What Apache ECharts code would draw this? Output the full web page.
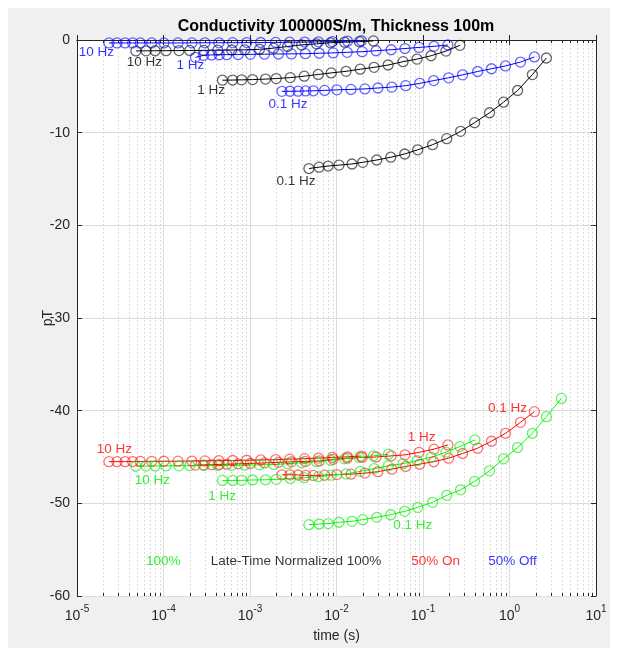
<!DOCTYPE html>
<html>
<head>
<meta charset="utf-8">
<title>Conductivity 100000S/m, Thickness 100m</title>
<script src="https://cdn.jsdelivr.net/npm/echarts@6/dist/echarts.min.js"></script>
<style>
  html, body { margin: 0; padding: 0; background: #ffffff; }
  #chart { width: 618px; height: 648px; }
</style>
</head>
<body>
<div id="chart"></div>
<script>
// ---- gate times (s) ----
// 100% waveform and late-time normalized curves share these gates
const tFull10 = [0.000048, 0.000063, 0.000080, 0.000107, 0.000151, 0.000201, 0.000292, 0.000424, 0.000615, 0.000869, 0.00129, 0.00188, 0.00272, 0.00395, 0.00588, 0.00853, 0.0124, 0.0184, 0.0267, 0.0398];
const tFull1  = [0.00048, 0.00063, 0.00080, 0.00107, 0.00151, 0.00201, 0.00292, 0.00424, 0.00615, 0.00869, 0.0129, 0.0188, 0.0272, 0.0395, 0.0588, 0.0853, 0.124, 0.184, 0.267, 0.398];
const tFull01 = [0.0048, 0.0063, 0.0080, 0.0107, 0.0151, 0.0201, 0.0292, 0.0424, 0.0615, 0.0869, 0.129, 0.188, 0.272, 0.395, 0.588, 0.853, 1.24, 1.84, 2.67, 3.98];
// 50% duty cycle (on / off) gates
const tHalf10 = [0.0000234, 0.000029, 0.000036, 0.000044, 0.000054, 0.000073, 0.000101, 0.000147, 0.000213, 0.000301, 0.000436, 0.000631, 0.000916, 0.00133, 0.00198, 0.00287, 0.00428, 0.00619, 0.0090, 0.0134, 0.0194];
const tHalf1  = [0.000234, 0.00029, 0.00036, 0.00044, 0.00054, 0.00073, 0.00101, 0.00147, 0.00213, 0.00301, 0.00436, 0.00631, 0.00916, 0.0133, 0.0198, 0.0287, 0.0428, 0.0619, 0.090, 0.134, 0.194];
const tHalf01 = [0.00234, 0.0029, 0.0036, 0.0044, 0.0054, 0.0073, 0.0101, 0.0147, 0.0213, 0.0301, 0.0436, 0.0631, 0.0916, 0.133, 0.198, 0.287, 0.428, 0.619, 0.90, 1.34, 1.94];

// ---- field values (pT) ----
const norm10 = [-1.18, -1.17, -1.16, -1.15, -1.14, -1.13, -1.12, -1.10, -1.08, -1.06, -1.00, -0.88, -0.70, -0.53, -0.41, -0.30, -0.24, -0.18, -0.10];
const norm1  = [-4.34, -4.32, -4.30, -4.27, -4.22, -4.16, -4.06, -3.90, -3.72, -3.55, -3.38, -3.15, -2.95, -2.70, -2.34, -2.06, -1.70, -1.20, -0.58];
const norm01 = [-13.87, -13.72, -13.60, -13.50, -13.38, -13.20, -12.95, -12.65, -12.30, -11.85, -11.30, -10.65, -9.86, -8.92, -7.85, -6.71, -5.45, -3.73, -1.94];

const off10 = [-0.32, -0.32, -0.32, -0.32, -0.32, -0.32, -0.32, -0.32, -0.31, -0.30, -0.30, -0.29, -0.28, -0.27, -0.26, -0.24, -0.22, -0.20, -0.17, -0.13, -0.08];
const off1  = [-1.87, -1.66, -1.61, -1.59, -1.58, -1.57, -1.55, -1.53, -1.51, -1.50, -1.48, -1.43, -1.39, -1.33, -1.26, -1.16, -1.05, -0.92, -0.80, -0.68, -0.54];
const off01 = [-5.54, -5.53, -5.52, -5.50, -5.48, -5.44, -5.38, -5.33, -5.28, -5.18, -5.08, -4.93, -4.68, -4.38, -4.08, -3.76, -3.40, -3.10, -2.80, -2.38, -1.83];

const on10 = [-45.50, -45.50, -45.50, -45.49, -45.48, -45.47, -45.46, -45.45, -45.44, -45.42, -45.40, -45.38, -45.35, -45.32, -45.28, -45.23, -45.18, -45.12, -45.05, -44.98, -44.90];
const on1  = [-45.87, -45.85, -45.83, -45.80, -45.78, -45.74, -45.70, -45.64, -45.58, -45.52, -45.48, -45.42, -45.25, -45.13, -45.05, -45.00, -44.88, -44.77, -44.50, -44.15, -43.70];
const on01 = [-46.92, -46.92, -46.94, -46.99, -46.99, -46.96, -46.90, -46.85, -46.74, -46.58, -46.31, -46.02, -45.77, -45.51, -45.13, -44.62, -44.05, -43.30, -42.44, -41.26, -40.11];

const full10 = [-46.00, -45.98, -45.97, -45.96, -45.95, -45.94, -45.93, -45.92, -45.90, -45.88, -45.85, -45.80, -45.72, -45.62, -45.50, -45.35, -45.20, -45.05, -44.88, -44.70];
const full1  = [-47.53, -47.53, -47.52, -47.48, -47.46, -47.41, -47.31, -47.23, -47.12, -46.96, -46.83, -46.55, -46.26, -45.96, -45.72, -45.40, -45.02, -44.48, -43.87, -43.16];
const full01 = [-52.30, -52.23, -52.19, -52.04, -51.94, -51.76, -51.51, -51.23, -50.86, -50.43, -49.89, -49.14, -48.54, -47.63, -46.49, -45.20, -43.98, -42.44, -40.65, -38.68];

// ---- text annotations: [time, pT, text, group] ----
const notes = [
  [6.0e-5, -2.44, '10 Hz', 'norm'], [3.56e-4, -5.45, '1 Hz', 'norm'], [3.4e-3, -15.24, '0.1 Hz', 'norm'],
  [1.68e-5, -1.37, '10 Hz', 'off'], [2.04e-4, -2.76, '1 Hz', 'off'], [2.75e-3, -6.96, '0.1 Hz', 'off'],
  [2.71e-5, -44.16, '10 Hz', 'on'], [0.0964, -42.87, '1 Hz', 'on'], [0.948, -39.75, '0.1 Hz', 'on'],
  [7.43e-5, -47.49, '10 Hz', 'full'], [4.77e-4, -49.21, '1 Hz', 'full'], [0.076, -52.39, '0.1 Hz', 'full'],
  [9.95e-5, -56.25, '100%', 'full'], [3.4e-3, -56.25, 'Late-Time Normalized 100%', 'norm'],
  [0.140, -56.25, '50% On', 'on'], [1.084, -56.25, '50% Off', 'off']
];

const minorTickValues = [];
[1e-5, 1e-4, 1e-3, 1e-2, 1e-1, 1].forEach(function (d) {
  for (let k = 2; k <= 9; k++) minorTickValues.push(d * k);
});

// ---- styling ----
const FONT = '"Liberation Sans", Arial, Helvetica, sans-serif';
const groupColor = {
  norm: { line: '#000000', mark: 'rgba(0,0,0,0.6)', text: '#000000' },
  off:  { line: '#0000ff', mark: 'rgba(0,0,255,0.6)', text: '#0000ff' },
  on:   { line: '#ff0000', mark: 'rgba(255,0,0,0.55)', text: '#ff0000' },
  full: { line: '#00ff00', mark: 'rgba(0,230,0,0.6)', text: '#00ee00' }
};

function zip(t, v) {
  const out = [];
  for (let i = 0; i < v.length; i++) out.push([t[i], v[i]]);
  return out;
}

function curve(name, group, t, v) {
  const c = groupColor[group];
  return {
    name: name,
    type: 'line',
    data: zip(t, v),
    symbol: 'circle',
    symbolSize: 10,
    showAllSymbol: true,
    lineStyle: { color: c.line, width: 1 },
    itemStyle: { color: 'rgba(0,0,0,0)', borderColor: c.mark, borderWidth: 1.3 },
    emphasis: { disabled: true },
    silent: true,
    z: 3
  };
}

const chart = echarts.init(document.getElementById('chart'), null, { renderer: 'canvas' });

const axisLineStyle = { color: '#262626', width: 1 };

const option = {
  animation: false,
  backgroundColor: '#ffffff',
  graphic: [{
    type: 'rect',
    shape: { x: 8, y: 8, width: 602, height: 640 },
    style: { fill: '#f0f0f0' },
    z: -10,
    silent: true
  }],
  title: {
    text: 'Conductivity 100000S/m, Thickness 100m',
    left: 331,
    textAlign: 'center',
    top: 14,
    textStyle: { fontFamily: FONT, fontSize: 16, fontWeight: 'bold', color: '#000000' }
  },
  grid: {
    left: 77, right: 22, top: 40, bottom: 50,
    show: true, backgroundColor: '#ffffff', borderWidth: 0
  },
  xAxis: [{
    type: 'log', logBase: 10, min: 1e-5, max: 10,
    position: 'bottom',
    name: 'time (s)', nameLocation: 'middle', nameGap: 33, nameMoveOverlap: false,
    nameTextStyle: { fontFamily: FONT, fontSize: 14, color: '#262626' },
    axisLine: { show: true, lineStyle: axisLineStyle },
    axisTick: { show: true, inside: true, length: 5, lineStyle: axisLineStyle },
    axisLabel: {
      margin: 8,
      formatter: function (v) {
        const e = Math.round(Math.log10(v));
        return '{b|10}{s|' + e + '}';
      },
      rich: {
        b: { fontFamily: FONT, fontSize: 14, color: '#262626', lineHeight: 19, verticalAlign: 'bottom' },
        s: { fontFamily: FONT, fontSize: 10, color: '#262626', lineHeight: 19, verticalAlign: 'top' }
      }
    },
    splitLine: { show: true, lineStyle: { color: '#dcdcdc', width: 1 } }
  }, {
    type: 'log', logBase: 10, min: 1e-5, max: 10,
    position: 'top',
    axisLine: { show: true, lineStyle: axisLineStyle },
    axisTick: { show: true, inside: true, length: 5, lineStyle: axisLineStyle },
    axisLabel: { show: false },
    splitLine: { show: false }
  }],
  yAxis: [{
    type: 'value', min: -60, max: 0, interval: 10,
    position: 'left',
    name: 'pT', nameLocation: 'middle', nameGap: 22, nameMoveOverlap: false,
    nameTextStyle: { fontFamily: FONT, fontSize: 14, color: '#262626' },
    axisLine: { show: true, lineStyle: axisLineStyle },
    axisTick: { show: true, inside: true, length: 5, lineStyle: axisLineStyle },
    axisLabel: { fontFamily: FONT, fontSize: 14, color: '#262626', margin: 7 },
    splitLine: { show: true, lineStyle: { color: '#dcdcdc', width: 1 } }
  }, {
    type: 'value', min: -60, max: 0, interval: 10,
    position: 'right',
    axisLine: { show: true, lineStyle: axisLineStyle },
    axisTick: { show: true, inside: true, length: 5, lineStyle: axisLineStyle },
    axisLabel: { show: false },
    splitLine: { show: false }
  }],
  series: [
    {
      // minor decade grid (dotted) with short inside ticks on bottom and top edges
      type: 'custom',
      silent: true,
      z: 1,
      clip: false,
      data: minorTickValues.map(function (v) { return [v, 0]; }),
      renderItem: function (params, api) {
        const top = api.coord([api.value(0), 0]);
        const bot = api.coord([api.value(0), -60]);
        const x = Math.round(top[0]) + 0.5;
        return {
          type: 'group',
          children: [
            { type: 'line', shape: { x1: x, y1: top[1], x2: x, y2: bot[1] },
              style: { stroke: '#d2d2d2', lineWidth: 1, lineDash: [1.5, 2.5] } },
            { type: 'line', shape: { x1: x, y1: bot[1], x2: x, y2: bot[1] - 3 },
              style: { stroke: '#262626', lineWidth: 1 } },
            { type: 'line', shape: { x1: x, y1: top[1], x2: x, y2: top[1] + 3 },
              style: { stroke: '#262626', lineWidth: 1 } }
          ]
        };
      }
    },
    curve('Late-Time Normalized 100% 10 Hz', 'norm', tFull10, norm10),
    curve('Late-Time Normalized 100% 1 Hz', 'norm', tFull1, norm1),
    curve('Late-Time Normalized 100% 0.1 Hz', 'norm', tFull01, norm01),
    curve('50% Off 10 Hz', 'off', tHalf10, off10),
    curve('50% Off 1 Hz', 'off', tHalf1, off1),
    curve('50% Off 0.1 Hz', 'off', tHalf01, off01),
    curve('50% On 10 Hz', 'on', tHalf10, on10),
    curve('50% On 1 Hz', 'on', tHalf1, on1),
    curve('50% On 0.1 Hz', 'on', tHalf01, on01),
    curve('100% 10 Hz', 'full', tFull10, full10),
    curve('100% 1 Hz', 'full', tFull1, full1),
    curve('100% 0.1 Hz', 'full', tFull01, full01),
    {
      type: 'scatter',
      silent: true,
      symbolSize: 0,
      z: 5,
      data: notes.map(function (n) {
        return {
          value: [n[0], n[1]],
          name: n[2],
          label: { color: groupColor[n[3]].text }
        };
      }),
      label: {
        show: true,
        position: 'inside',
        formatter: function (p) { return p.name; },
        fontFamily: FONT,
        fontSize: 13.5
      }
    }
  ]
};

chart.setOption(option);
</script>
</body>
</html>
